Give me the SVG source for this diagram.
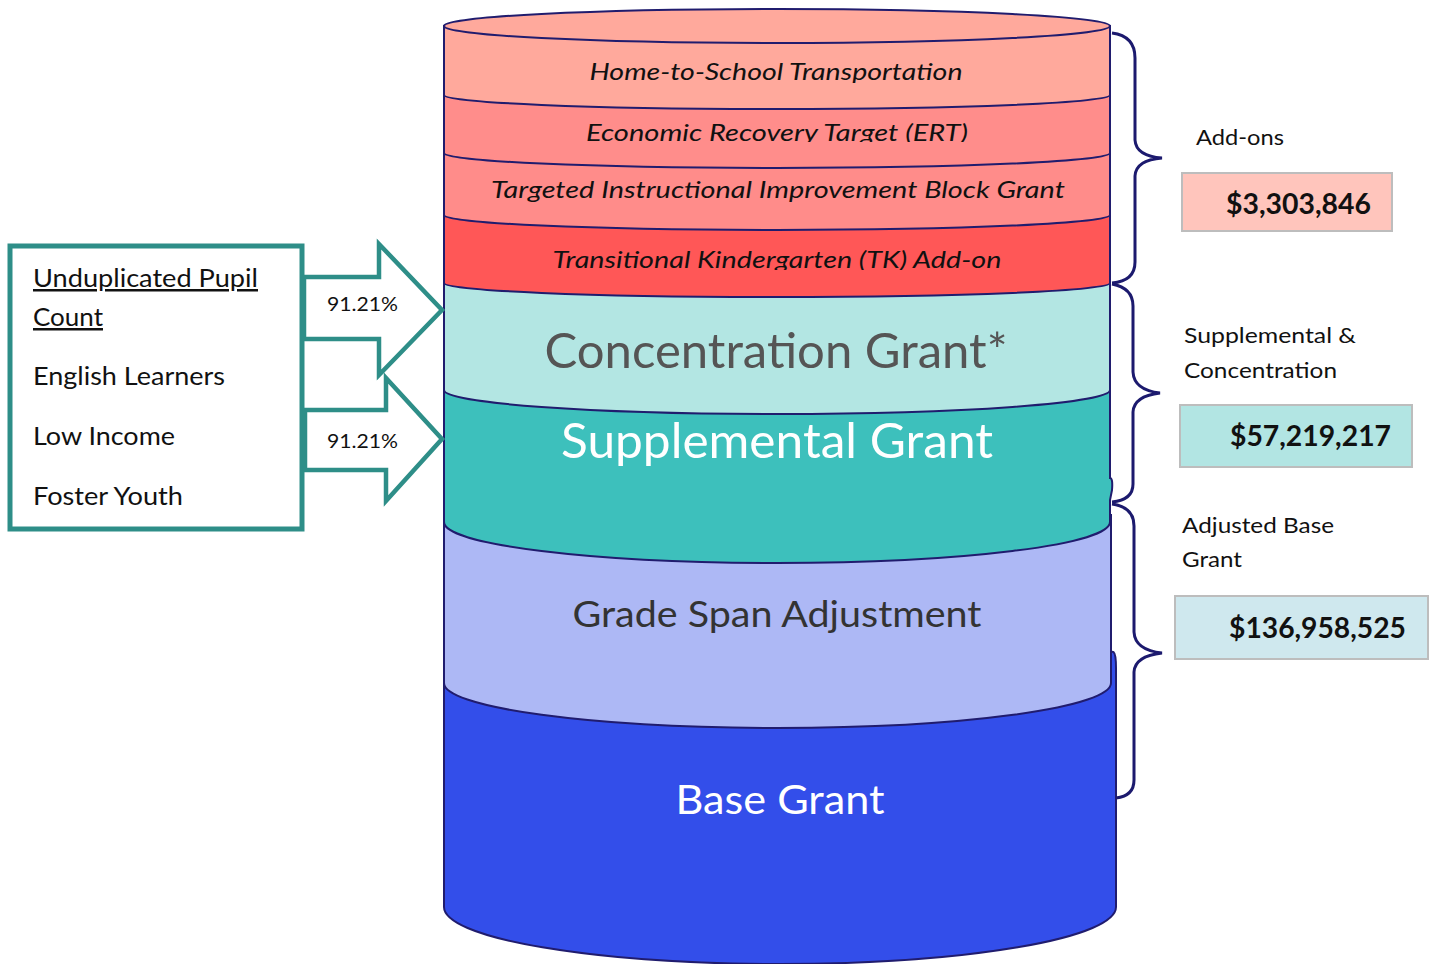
<svg xmlns="http://www.w3.org/2000/svg" width="1432" height="964" viewBox="0 0 1432 964">
<style>
.layer{stroke:#201C6E;stroke-width:2}
.lbl{font-family:Lato,"Liberation Sans",sans-serif;font-style:italic;font-size:24px;fill:#111;text-anchor:middle}
.big{font-family:Lato,"Liberation Sans",sans-serif;text-anchor:middle}
.txt{font-family:Lato,"Liberation Sans",sans-serif;fill:#111}
.money{font-family:Lato,"Liberation Sans",sans-serif;font-weight:bold;font-size:28px;fill:#111}
.arrow{fill:#fff;stroke:#2E8E88;stroke-width:4.5;stroke-linejoin:miter}
.brace{fill:none;stroke:#1C1A6E;stroke-width:3}
.mbox{stroke:#BDBDBD;stroke-width:2}
</style>
<defs>
<clipPath id="c1"><rect x="440" y="40" width="680" height="43"/></clipPath>
<clipPath id="c2"><rect x="440" y="100" width="680" height="42"/></clipPath>
<clipPath id="c3"><rect x="440" y="160" width="680" height="42"/></clipPath>
<clipPath id="c4"><rect x="440" y="225" width="680" height="45"/></clipPath>
</defs>
<g id="cylinder">
<g id="base-grant">
<path class="layer" fill="#334EEA" d="M444 660 L1106 660 Q1116 640 1116 668 L1116 907 A336 57 0 0 1 444 907 Z"/>
<text class="big" x="780" y="814" font-size="40" fill="#fff" textLength="209" lengthAdjust="spacingAndGlyphs">Base Grant</text>
</g>
<g id="grade-span">
<path class="layer" fill="#ADB8F5" d="M444 515 L1111 515 L1111 683 A333.5 45 0 0 1 444 683 Z"/>
<text class="big" x="777" y="627" font-size="37" fill="#333" textLength="409" lengthAdjust="spacingAndGlyphs">Grade Span Adjustment</text>
</g>
<g id="supplemental">
<path class="layer" fill="#3DC0BC" d="M444 384 L1110 384 L1110 478 Q1113 478 1112 490 L1110 500 L1110 522 A333 41 0 0 1 444 522 Z"/>
<text class="big" x="777" y="458" font-size="48" fill="#fff" textLength="432" lengthAdjust="spacingAndGlyphs">Supplemental Grant</text>
</g>
<g id="concentration">
<path class="layer" fill="#B3E6E3" d="M444 278 L1110 278 L1110 390 A333 24 0 0 1 444 390 Z"/>
<text class="big" x="776" y="368" font-size="48" fill="#555" textLength="463" lengthAdjust="spacingAndGlyphs">Concentration Grant*</text>
</g>
<g id="tk-addon">
<path class="layer" fill="#FF5757" d="M444 210 L1110 210 L1110 283 A333 14 0 0 1 444 283 Z"/>
<text class="lbl" x="777" y="268" clip-path="url(#c4)" textLength="449" lengthAdjust="spacingAndGlyphs">Transitional Kindergarten (TK) Add-on</text>
</g>
<g id="tiibg">
<path class="layer" fill="#FF8C8A" d="M444 148 L1110 148 L1110 215 A333 15 0 0 1 444 215 Z"/>
<text class="lbl" x="778" y="198" clip-path="url(#c3)" textLength="574" lengthAdjust="spacingAndGlyphs">Targeted Instructional Improvement Block Grant</text>
</g>
<g id="ert">
<path class="layer" fill="#FF8D8B" d="M444 90 L1110 90 L1110 153 A333 15 0 0 1 444 153 Z"/>
<text class="lbl" x="777" y="141" clip-path="url(#c2)" textLength="382" lengthAdjust="spacingAndGlyphs">Economic Recovery Target (ERT)</text>
</g>
<g id="home-to-school">
<path class="layer" fill="#FFA99C" d="M444 26 L1110 26 L1110 95 A333 14 0 0 1 444 95 Z"/>
<ellipse class="layer" fill="#FFA99C" cx="777" cy="26" rx="333" ry="17"/>
<text class="lbl" x="776" y="80" clip-path="url(#c1)" textLength="373" lengthAdjust="spacingAndGlyphs">Home-to-School Transportation</text>
</g>
</g>
<g id="connectors">
<path class="brace" d="M1112 33 Q1135 36 1135 58 L1135 140 Q1136 156 1162 158 Q1136 160 1135 176 L1135 262 Q1135 281 1112 283"/>
<path class="brace" d="M1112 284 Q1133 288 1133 306 L1133 372 Q1134 390 1160 393 Q1134 396 1133 412 L1133 484 Q1133 500 1112 502"/>
<path class="brace" d="M1112 504 Q1134 507 1134 526 L1134 632 Q1135 650 1162 653 Q1135 656 1134 672 L1134 780 Q1134 796 1116 798"/>
</g>
<g id="unduplicated-box">
<rect x="10" y="246" width="292" height="283" fill="#fff" stroke="#2E8E88" stroke-width="5"/>
<text class="txt" x="33" y="287" font-size="25" text-decoration="underline" textLength="225" lengthAdjust="spacingAndGlyphs">Unduplicated Pupil</text>
<text class="txt" x="33" y="326" font-size="25" text-decoration="underline" textLength="70" lengthAdjust="spacingAndGlyphs">Count</text>
<text class="txt" x="33" y="385" font-size="25" textLength="192" lengthAdjust="spacingAndGlyphs">English Learners</text>
<text class="txt" x="33" y="445" font-size="25" textLength="142" lengthAdjust="spacingAndGlyphs">Low Income</text>
<text class="txt" x="33" y="505" font-size="25" textLength="150" lengthAdjust="spacingAndGlyphs">Foster Youth</text>
</g>
<g id="arrow-concentration">
<path class="arrow" d="M304 277 L379 277 L379 244 L442 310 L379 375 L379 339 L304 339 Z"/>
<text class="txt" x="327" y="311" font-size="19" textLength="71" lengthAdjust="spacingAndGlyphs">91.21%</text>
</g>
<g id="arrow-supplemental">
<path class="arrow" d="M305 410 L386 410 L386 378 L442 439 L386 501 L386 470 L305 470 Z"/>
<text class="txt" x="327" y="448" font-size="19" textLength="71" lengthAdjust="spacingAndGlyphs">91.21%</text>
</g>
<g id="addons-label">
<text class="txt" x="1196" y="145" font-size="22" textLength="88" lengthAdjust="spacingAndGlyphs">Add-ons</text>
<rect class="mbox" x="1182" y="173" width="210" height="58" fill="#FFC5BC"/>
<text class="money" x="1226" y="214" textLength="145" lengthAdjust="spacingAndGlyphs">$3,303,846</text>
</g>
<g id="supp-conc-label">
<text class="txt" x="1184" y="343" font-size="22" textLength="172" lengthAdjust="spacingAndGlyphs">Supplemental &amp;</text>
<text class="txt" x="1184" y="378" font-size="22" textLength="153" lengthAdjust="spacingAndGlyphs">Concentration</text>
<rect class="mbox" x="1180" y="405" width="232" height="62" fill="#B2E5E3"/>
<text class="money" x="1230" y="446" textLength="161" lengthAdjust="spacingAndGlyphs">$57,219,217</text>
</g>
<g id="adjusted-base-label">
<text class="txt" x="1182" y="533" font-size="22" textLength="152" lengthAdjust="spacingAndGlyphs">Adjusted Base</text>
<text class="txt" x="1182" y="567" font-size="22" textLength="60" lengthAdjust="spacingAndGlyphs">Grant</text>
<rect class="mbox" x="1175" y="596" width="253" height="63" fill="#CFE8EE"/>
<text class="money" x="1229" y="638" textLength="177" lengthAdjust="spacingAndGlyphs">$136,958,525</text>
</g>
</svg>
